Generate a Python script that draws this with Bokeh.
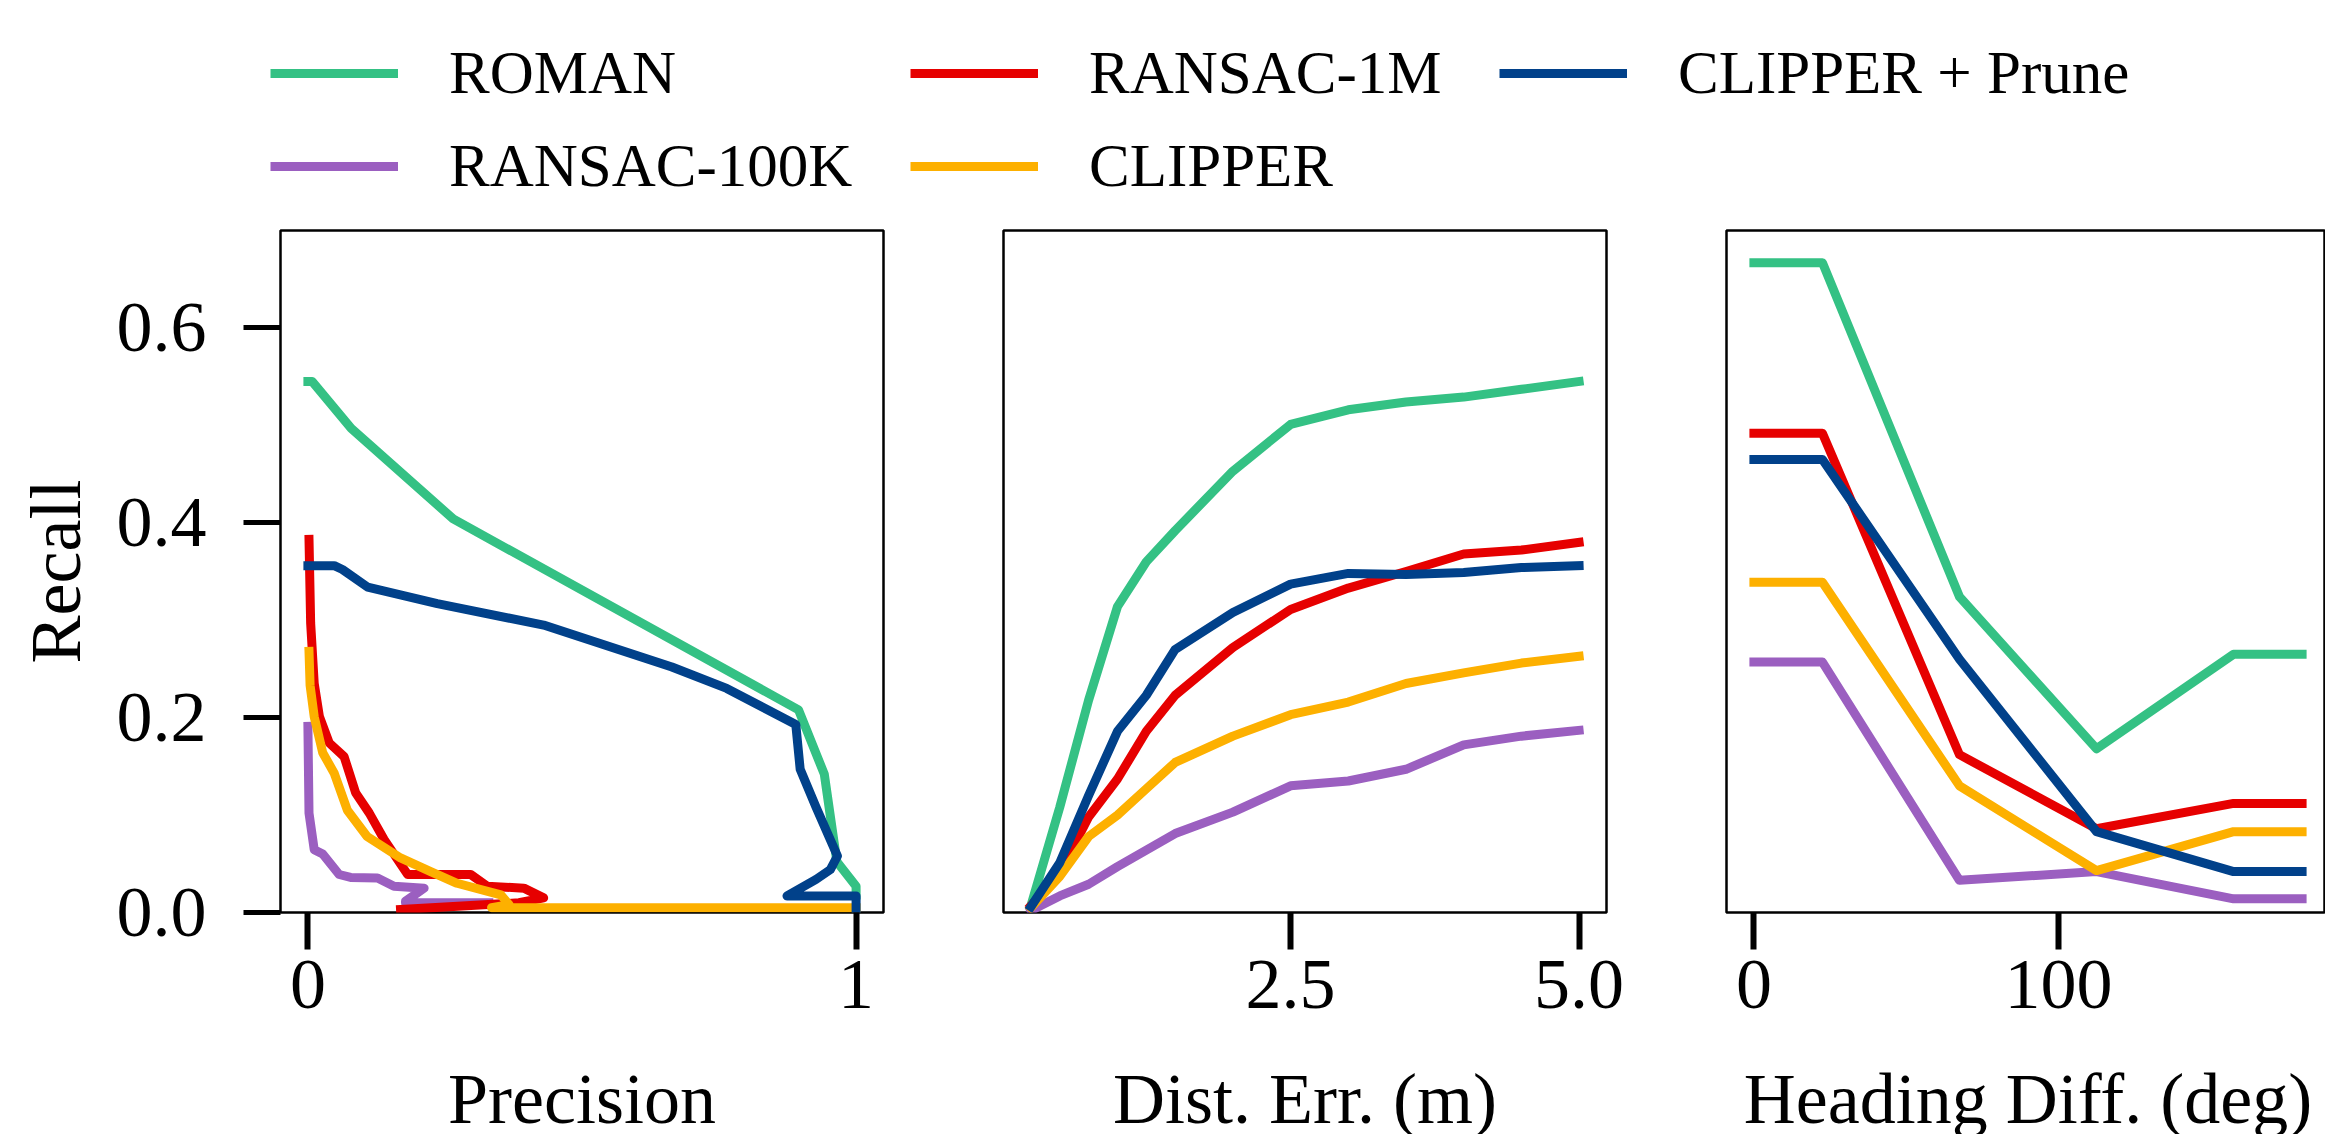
from bokeh.plotting import figure
from bokeh.layouts import column, row
from bokeh.models import Legend, LegendItem, Label, FixedTicker, Range1d
from bokeh.embed import file_html
from bokeh.resources import INLINE

# ---------------- data ----------------
series_names = ["ROMAN", "RANSAC-100K", "RANSAC-1M", "CLIPPER", "CLIPPER + Prune"]
series_colors = ["#34C184", "#9B5FC0", "#E60000", "#FDB000", "#01418A"]

# Panel 1: precision / recall curves
roman_prec = [0.0, 0.008, 0.079, 0.265, 0.895, 0.942, 0.965, 1.0, 1.0]
roman_rec = [0.545, 0.545, 0.497, 0.404, 0.208, 0.142, 0.052, 0.027, 0.018]
r100k_prec = [0.0, 0.002, 0.0115, 0.027, 0.057, 0.078, 0.127, 0.157, 0.212, 0.178, 0.178, 0.33]
r100k_rec = [0.191, 0.102, 0.0645, 0.060, 0.039, 0.036, 0.0355, 0.027, 0.025, 0.0116, 0.010, 0.010]
r1m_prec = [0.002, 0.005, 0.0115, 0.021, 0.039, 0.066, 0.087, 0.112, 0.139, 0.182, 0.297, 0.327,
            0.394, 0.43, 0.385, 0.169]
r1m_rec = [0.383, 0.297, 0.235, 0.201, 0.174, 0.160, 0.123, 0.102, 0.075, 0.039, 0.039, 0.027,
           0.025, 0.015, 0.010, 0.003]
clip_prec = [0.002, 0.004, 0.0115, 0.027, 0.048, 0.072, 0.108, 0.169, 0.224, 0.272, 0.352, 0.367,
             0.335, 1.0]
clip_rec = [0.268, 0.233, 0.201, 0.164, 0.143, 0.105, 0.078, 0.056, 0.042, 0.030, 0.018, 0.008,
            0.005, 0.005]
prune_prec = [0.0, 0.048, 0.063, 0.109, 0.236, 0.43, 0.664, 0.764, 0.890, 0.898, 0.927, 0.966,
              0.953, 0.927, 0.874, 1.0, 1.0]
prune_rec = [0.356, 0.356, 0.352, 0.334, 0.317, 0.295, 0.252, 0.230, 0.193, 0.147, 0.108, 0.058,
             0.044, 0.034, 0.017, 0.017, 0.0]

# Panel 2: recall vs distance error threshold (m)
dist_err = [0.25, 0.5, 0.75, 1.0, 1.25, 1.5, 2.0, 2.5, 3.0, 3.5, 4.0, 4.5, 5.0]
roman_dist = [0.007, 0.108, 0.218, 0.314, 0.360, 0.392, 0.453, 0.501, 0.516, 0.524, 0.529, 0.537, 0.545]
r100k_dist = [0.002, 0.017, 0.029, 0.047, 0.064, 0.081, 0.103, 0.130, 0.135, 0.147, 0.172, 0.181, 0.187]
r1m_dist = [0.007, 0.040, 0.098, 0.137, 0.186, 0.223, 0.272, 0.311, 0.333, 0.350, 0.368, 0.372, 0.380]
clip_dist = [0.005, 0.037, 0.078, 0.100, 0.127, 0.154, 0.181, 0.203, 0.216, 0.235, 0.246, 0.256, 0.263]
prune_dist = [0.006, 0.051, 0.120, 0.186, 0.223, 0.270, 0.308, 0.337, 0.348, 0.347, 0.349, 0.354, 0.356]

# Panel 3: recall vs heading difference (deg)
heading = [0, 22.5, 67.5, 112.5, 157.5, 180]
roman_head = [0.667, 0.667, 0.324, 0.168, 0.265, 0.265]
r100k_head = [0.257, 0.257, 0.033, 0.042, 0.014, 0.014]
r1m_head = [0.492, 0.492, 0.162, 0.086, 0.112, 0.112]
clip_head = [0.339, 0.339, 0.130, 0.043, 0.083, 0.083]
prune_head = [0.465, 0.465, 0.260, 0.083, 0.042, 0.042]

y_ticks = [0, 0.2, 0.4, 0.6]
y_tick_labels = ["0.0", "0.2", "0.4", "0.6"]
p1_ticks = [0, 1]
p1_tick_labels = ["0", "1"]
p2_ticks = [2.5, 5.0]
p2_tick_labels = ["2.5", "5.0"]
p3_ticks = [0, 100]
p3_tick_labels = ["0", "100"]
x_labels = ["Precision", "Dist. Err. (m)", "Heading Diff. (deg)"]
y_label = "Recall"

panel1 = [(roman_prec, roman_rec), (r100k_prec, r100k_rec), (r1m_prec, r1m_rec),
          (clip_prec, clip_rec), (prune_prec, prune_rec)]
panel2 = [(dist_err, v) for v in (roman_dist, r100k_dist, r1m_dist, clip_dist, prune_dist)]
panel3 = [(heading, v) for v in (roman_head, r100k_head, r1m_head, clip_head, prune_head)]

# ---------------- styling / layout ----------------
FONT = "Liberation Serif"
TICK_FS = "72px"
LEG_FS = "61px"
LW = 9

PAGE_W = 2325
FRAME_W = 603
FRAME_H = 682
TOP_B = 22
BOT_B = 130
LEG_H = 208
STRIP_H = 92


def make_panel(data, xr, ticks, tick_labels, left_b, right_b, frame_w, show_y):
    p = figure(width=left_b + frame_w + right_b, height=TOP_B + FRAME_H + BOT_B,
               x_range=Range1d(*xr), y_range=Range1d(0, 0.7),
               output_backend="svg", toolbar_location=None,
               min_border_left=left_b, min_border_right=right_b,
               min_border_top=TOP_B, min_border_bottom=BOT_B)
    p.xgrid.visible = False
    p.ygrid.visible = False
    p.outline_line_color = "black"
    p.outline_line_width = 2.5
    p.background_fill_color = "white"
    p.border_fill_color = "white"

    for (xs, ys), c in zip(data, series_colors):
        p.line(xs, ys, line_color=c, line_width=LW, line_join="round", line_cap="square")

    xa = p.xaxis[0]
    xa.ticker = FixedTicker(ticks=ticks)
    xa.major_label_overrides = dict(zip(ticks, tick_labels))
    xa.minor_tick_line_color = None
    xa.axis_line_color = None
    xa.major_tick_out = 37
    xa.major_tick_in = 0
    xa.major_tick_line_width = 6
    xa.major_tick_line_color = "black"
    xa.major_label_text_font = FONT
    xa.major_label_text_font_size = TICK_FS
    xa.major_label_text_color = "black"
    xa.major_label_standoff = 11

    ya = p.yaxis[0]
    if show_y:
        ya.ticker = FixedTicker(ticks=y_ticks)
        ya.major_label_overrides = dict(zip(y_ticks, y_tick_labels))
        ya.minor_tick_line_color = None
        ya.axis_line_color = None
        ya.major_tick_out = 37
        ya.major_tick_in = 0
        ya.major_tick_line_width = 5
        ya.major_tick_line_color = "black"
        ya.major_label_text_font = FONT
        ya.major_label_text_font_size = TICK_FS
        ya.major_label_text_color = "black"
        ya.major_label_standoff = 37
        ya.axis_label = y_label
        ya.axis_label_text_font = FONT
        ya.axis_label_text_font_size = TICK_FS
        ya.axis_label_text_font_style = "normal"
        ya.axis_label_text_color = "black"
        ya.axis_label_standoff = 18
    else:
        ya.visible = False
    return p


# panel geometry (page pixels)
F1_LB, F1_RB = 280, 60
F2_LB, F2_RB = 60, 60
F3_LB = 60
f1_w = F1_LB + FRAME_W + F1_RB
f2_w = F2_LB + FRAME_W + F2_RB
f3_w = PAGE_W - f1_w - f2_w
F3_FRAME_W = f3_w - F3_LB
deg_per_px = 198.0 / FRAME_W

f1 = make_panel(panel1, (-0.05, 1.05), p1_ticks, p1_tick_labels, F1_LB, F1_RB, FRAME_W, True)
f2 = make_panel(panel2, (0.0125, 5.2375), p2_ticks, p2_tick_labels, F2_LB, F2_RB, FRAME_W, False)
f3 = make_panel(panel3, (-9.0, -9.0 + F3_FRAME_W * deg_per_px), p3_ticks, p3_tick_labels,
                F3_LB, 0, F3_FRAME_W, False)

# legend strip (top)
lf = figure(width=PAGE_W, height=LEG_H, x_range=(0, 1), y_range=(0, 1),
            x_axis_type=None, y_axis_type=None, output_backend="svg",
            toolbar_location=None, min_border=0)
lf.outline_line_color = None
lf.xgrid.visible = False
lf.ygrid.visible = False
rends = []
for c in series_colors:
    rends.append(lf.line([-3, -2], [-3, -2], line_color=c, line_width=LW))

cols = [([0, 1], 270, 2), ([2, 3], 910, 2), ([4], 1499, 95)]
for idxs, lx, ly in cols:
    leg = Legend(items=[LegendItem(label=series_names[i], renderers=[rends[i]]) for i in idxs],
                 location=(lx, ly), orientation="vertical",
                 glyph_width=128, glyph_height=80, label_height=80, spacing=13,
                 label_standoff=51, padding=0, margin=0,
                 border_line_color=None, background_fill_alpha=0,
                 label_text_font=FONT, label_text_font_size=LEG_FS, label_text_color="black")
    lf.add_layout(leg)

# axis-title strip (bottom)
sf = figure(width=PAGE_W, height=STRIP_H, x_range=(0, PAGE_W), y_range=(0, STRIP_H),
            x_axis_type=None, y_axis_type=None, output_backend="svg",
            toolbar_location=None, min_border=0)
sf.outline_line_color = None
sf.xgrid.visible = False
sf.ygrid.visible = False
centers = [F1_LB + FRAME_W / 2,
           f1_w + F2_LB + FRAME_W / 2,
           f1_w + f2_w + F3_LB + FRAME_W / 2]
for cx, txt in zip(centers, x_labels):
    sf.add_layout(Label(x=cx, y=36, text=txt, text_align="center", text_baseline="alphabetic",
                        text_font=FONT, text_font_size=TICK_FS, text_color="black"))

layout = column(lf, row(f1, f2, f3, spacing=0), sf, spacing=0)

with open("out.html", "w") as fh:
    fh.write(file_html(layout, INLINE))
